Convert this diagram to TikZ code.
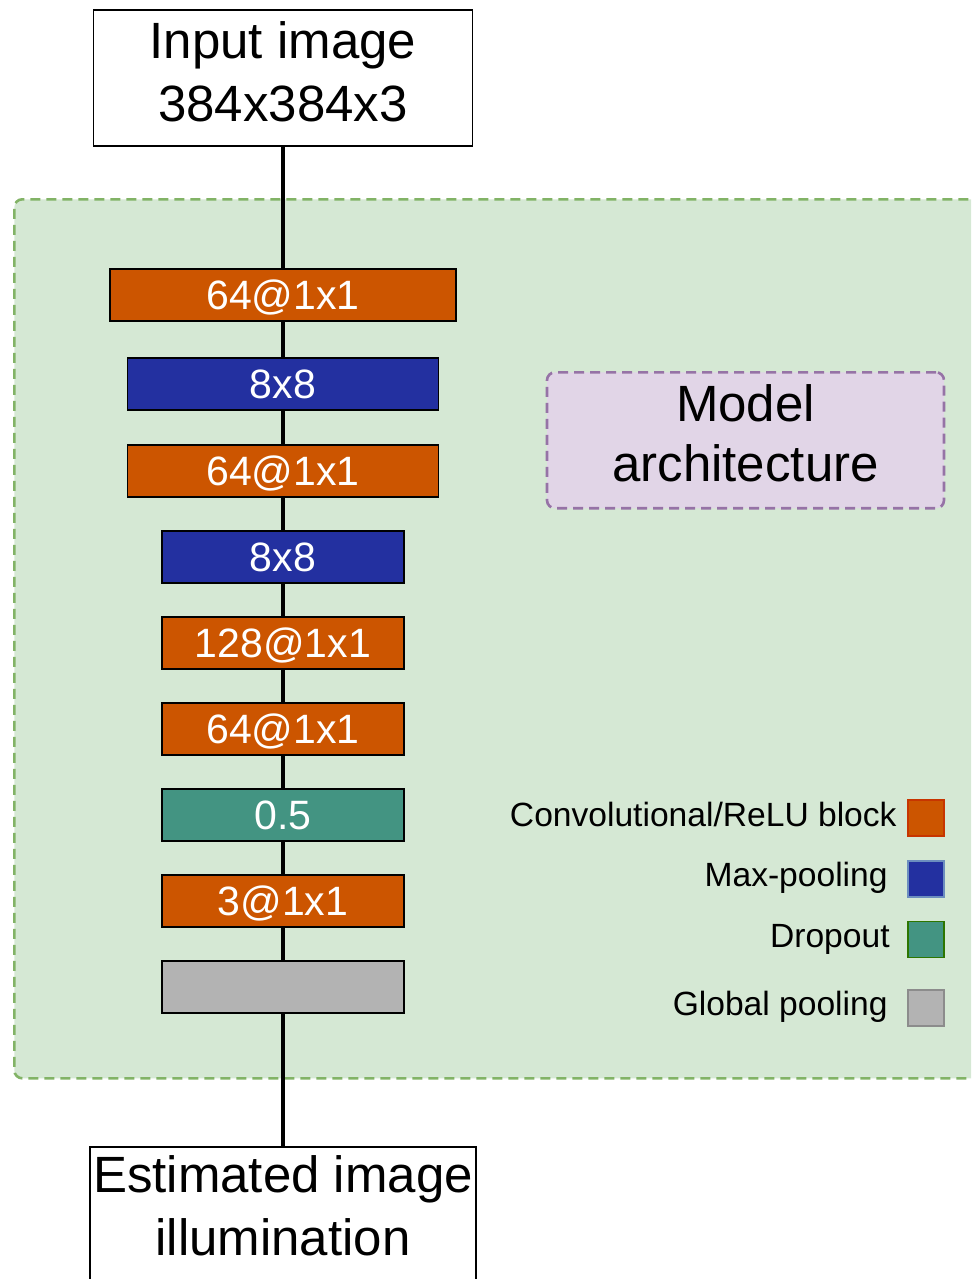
\documentclass[tikz,border=0pt]{standalone}
\usepackage{fontspec}
\setmainfont{Liberation Sans}
\usepackage{tikz}

\definecolor{convcol}{HTML}{CC5500}
\definecolor{poolcol}{HTML}{2330A0}
\definecolor{dropcol}{HTML}{439482}
\definecolor{gpoolcol}{HTML}{B3B3B3}
\definecolor{convline}{HTML}{C73500}
\definecolor{poolline}{HTML}{6C8EBF}
\definecolor{dropline}{HTML}{2D7600}
\definecolor{gpoolline}{HTML}{8C8C8C}
\definecolor{archfill}{HTML}{D5E8D4}
\definecolor{archdraw}{HTML}{82B366}
\definecolor{titlefill}{HTML}{E1D5E7}
\definecolor{titledraw}{HTML}{9673A6}

\tikzset{
  iobox/.style={draw,fill=white,line width=0.8pt,align=center,inner xsep=0pt,
    font=\fontsize{25.5}{31.5}\selectfont},
  layer/.style={draw,line width=0.8pt,text=white,inner sep=0pt,minimum height=26pt,
    text depth=0pt,font=\fontsize{20.5}{24}\selectfont},
  conv/.style={layer,fill=convcol},
  pool/.style={layer,fill=poolcol},
  drop/.style={layer,fill=dropcol},
  gpool/.style={layer,fill=gpoolcol},
  wire/.style={line width=2pt},
  frame/.style={line width=1.3pt,dash pattern=on 5pt off 3pt,rounded corners=4pt},
  keybox/.style={minimum size=18pt,inner sep=0pt,line width=0.8pt},
  keytext/.style={anchor=base east,inner sep=0pt,font=\fontsize{16.8}{20}\selectfont}
}

\begin{document}
\begin{tikzpicture}[x=0.5pt,y=-0.5pt]
  \useasboundingbox (0,0) rectangle (971,1279);
  \clip (0,0) rectangle (971,1279);
  %\draw[very thin,lightgray] (0,0) grid[step=50] (971,1279);

  % model container, runs off the right edge
  \node[frame,draw=archdraw,fill=archfill,anchor=north west,minimum width=505pt,
    minimum height=439.5pt] (arch) at (13,198) {};
  \node[frame,draw=titledraw,fill=titlefill,align=center,anchor=north,
    minimum width=198.5pt,inner ysep=6pt,text depth=7.5pt,
    font=\fontsize{25.5}{30}\selectfont] (title) at (745.5,371) {Model\\architecture};

  \node[iobox,anchor=north,minimum width=189.5pt,inner ysep=6pt,text depth=6pt]
    (in) at (283,9) {Input image\\384x384x3};

  \node[conv,minimum width=173pt] (b1) at (283,295) {64@1x1};
  \node[pool,minimum width=155.5pt] (b2) at (283,384) {8x8};
  \node[conv,minimum width=155.5pt] (b3) at (283,471) {64@1x1};
  \node[pool,minimum width=121pt] (b4) at (283,557) {8x8};
  \node[conv,minimum width=121pt] (b5) at (283,643) {128@1x1};
  \node[conv,minimum width=121pt] (b6) at (283,729) {64@1x1};
  \node[drop,minimum width=121pt] (b7) at (283,815) {0.5};
  \node[conv,minimum width=121pt] (b8) at (283,901) {3@1x1};
  \node[gpool,minimum width=121pt] (b9) at (283,987) {};

  \node[iobox,anchor=north,minimum width=193pt,inner ysep=4.5pt,text depth=14pt]
    (out) at (283,1146) {Estimated image\\illumination};

  \draw[wire] (in)--(b1);
  \draw[wire] (b1)--(b2);
  \draw[wire] (b2)--(b3);
  \draw[wire] (b3)--(b4);
  \draw[wire] (b4)--(b5);
  \draw[wire] (b5)--(b6);
  \draw[wire] (b6)--(b7);
  \draw[wire] (b7)--(b8);
  \draw[wire] (b8)--(b9);
  \draw[wire] (b9)--(out);

  % legend
  \node[keybox,draw=convline,fill=convcol] (kconv) at (926,818) {};
  \node[keytext] (tconv) at (897,826) {Convolutional/ReLU block};
  \node[keybox,draw=poolline,fill=poolcol] (kpool) at (926,879) {};
  \node[keytext] (tpool) at (888,886) {Max-pooling};
  \node[keybox,draw=dropline,fill=dropcol] (kdrop) at (926,939.5) {};
  \node[keytext] (tdrop) at (890,947) {Dropout};
  \node[keybox,draw=gpoolline,fill=gpoolcol] (kgpool) at (926,1008) {};
  \node[keytext] (tgpool) at (888,1015) {Global pooling};
\end{tikzpicture}
\end{document}
